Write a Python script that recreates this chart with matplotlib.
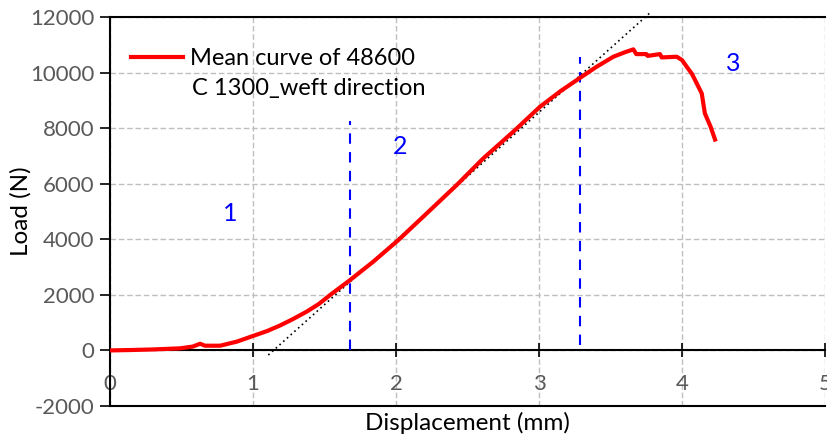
import numpy as np
import matplotlib.pyplot as plt

# mean load-displacement curve
disp = [0, 0.15, 0.3, 0.49, 0.58, 0.63, 0.664, 0.77, 0.886, 1.0, 1.1, 1.19, 1.28, 1.375,
        1.46, 1.538, 1.678, 1.84, 2.016, 2.2, 2.424, 2.61, 2.82, 3.007, 3.15, 3.287,
        3.4, 3.52, 3.6, 3.66, 3.68, 3.75, 3.76, 3.846, 3.858, 3.963, 4.0, 4.033,
        4.07, 4.103, 4.138, 4.16, 4.2, 4.231]
load = [0, 15, 35, 75, 140, 240, 170, 170, 315, 520, 700, 900, 1130, 1395,
        1670, 1990, 2530, 3190, 3970, 4860, 5950, 6910, 7870, 8770, 9330, 9810,
        10200, 10570, 10730, 10835, 10665, 10665, 10600, 10665, 10545, 10570, 10450, 10210,
        9950, 9610, 9250, 8530, 8050, 7590]

# tangent line over linear zone
tan_x = [1.107, 3.776]
tan_y = [-165, 12150]

# zone limits and labels
zone_x = [1.678, 3.287]
zone_ytop = [8265, 10570]
zone_ybot = [0, 195]
label_txt = ['1', '2', '3']
label_x = [0.84, 2.03, 4.36]
label_y = [4940, 7350, 10340]

plt.rcParams['font.family'] = ['Lato', 'DejaVu Sans']
plt.rcParams['axes.unicode_minus'] = False

fig = plt.figure(figsize=(8.27, 4.43), dpi=100)
ax = fig.add_axes([110/827, 37/443, 715/827, 389/443])

ax.plot(disp, load, color='#FF0000', lw=3, solid_joinstyle='round',
        label='Mean curve of 48600', zorder=4)
ax.plot(tan_x, tan_y, color='black', lw=1.2, ls=(0, (1, 2)), zorder=3, clip_on=False)
for xv, yt, yb in zip(zone_x, zone_ytop, zone_ybot):
    ax.plot([xv, xv], [yb, yt], color='#0000FF', lw=1.5, ls=(0, (5, 4)), zorder=3)
for t, xv, yv in zip(label_txt, label_x, label_y):
    ax.text(xv, yv, t, color='#0000FF', fontsize=18, ha='center', va='center')

ax.set_xlim(0, 5)
ax.set_ylim(-2000, 12000)
ax.set_xticks(np.arange(0, 6, 1))
ax.set_yticks(np.arange(-2000, 12001, 2000))
ax.grid(True, color='#BFBFBF', ls=(0, (4, 2)), lw=1)
ax.set_axisbelow(True)

ax.spines['bottom'].set_position(('data', 0))
ax.spines['right'].set_visible(False)
for s in ['left', 'bottom', 'top']:
    ax.spines[s].set_color('black')
    ax.spines[s].set_linewidth(1.5)
ax.axhline(-2000, color='black', lw=1.5, clip_on=False)

ax.tick_params(axis='x', direction='inout', length=10, width=1.2, pad=12,
               labelsize=16, labelcolor='#595959')
ax.tick_params(axis='y', direction='out', length=7, width=1.2, pad=4,
               labelsize=16, labelcolor='#595959')

ax.set_xlabel('Displacement (mm)', fontsize=17.5, color='black')
ax.xaxis.set_label_coords(0.5, -0.015)
ax.set_ylabel('Load (N)', fontsize=17.5, color='black')
ax.yaxis.set_label_coords(-0.11, 0.5)

leg = ax.legend(loc='upper left', bbox_to_anchor=(0.0, 0.975), frameon=False,
                fontsize=17, handlelength=2.2, handletextpad=0.3)
# legend entry wraps onto a second line
ax.text(82/715, 1 - 71/389, 'C 1300_weft direction', transform=ax.transAxes,
        fontsize=17, color='black', ha='left', va='center')

fig.savefig('out.png', dpi=100)
